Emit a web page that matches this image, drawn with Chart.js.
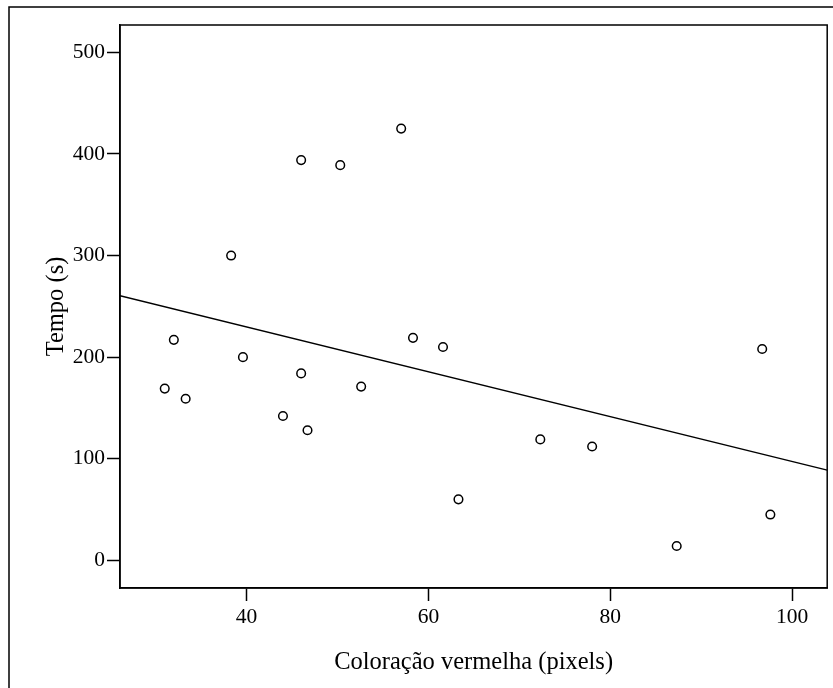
<!DOCTYPE html>
<html>
<head>
<meta charset="utf-8">
<script src="https://cdn.jsdelivr.net/npm/chart.js@4.4.0/dist/chart.umd.min.js"></script>
<style>
  html, body { margin: 0; padding: 0; background: #fff; }
  #wrap { width: 833px; height: 688px; }
</style>
</head>
<body>
<div id="wrap"><canvas id="chart" width="833" height="688"></canvas></div>
<script>
// valores
const coloracao = [38.3, 32.0, 39.6, 46.0, 31.0, 33.3, 44.0, 46.7, 46.0, 50.3, 57.0, 58.3, 61.6, 52.6, 72.3, 63.3, 78.0, 87.3, 96.7, 97.6];
const tempo = [300, 217, 200, 184, 169, 159, 142, 128, 394, 389, 425, 219, 210, 171, 119, 60, 112, 14, 208, 45];
const retaX = [26.08, 103.85];
const retaY = [260.4, 88.8];
const xTicks = [40, 60, 80, 100];
const yTicks = [0, 100, 200, 300, 400, 500];

const serif = 'Liberation Serif, Times New Roman, serif';

const framePlugin = {
  id: 'frame',
  afterDraw(chart) {
    const { ctx, chartArea } = chart;
    ctx.save();
    ctx.strokeStyle = '#000';
    ctx.lineWidth = 1.5;
    // moldura externa (só topo e esquerda aparecem)
    ctx.beginPath();
    ctx.moveTo(9, 688);
    ctx.lineTo(9, 7);
    ctx.lineTo(833, 7);
    ctx.stroke();
    ctx.strokeRect(chartArea.left, chartArea.top, chartArea.right - chartArea.left, chartArea.bottom - chartArea.top);
    ctx.restore();
  }
};

new Chart(document.getElementById('chart'), {
  type: 'scatter',
  data: {
    datasets: [
      {
        label: 'Tempo',
        data: coloracao.map((x, i) => ({ x, y: tempo[i] })),
        pointStyle: 'circle',
        pointRadius: 4.3,
        pointBackgroundColor: '#fff',
        pointBorderColor: '#000',
        pointBorderWidth: 1.5
      },
      {
        label: 'Ajuste',
        type: 'line',
        data: retaX.map((x, i) => ({ x, y: retaY[i] })),
        borderColor: '#000',
        borderWidth: 1.4,
        pointRadius: 0,
        fill: false
      }
    ]
  },
  options: {
    responsive: false,
    animation: false,
    layout: { padding: { left: 0, top: 25, right: 5, bottom: 0 } },
    plugins: { legend: { display: false }, tooltip: { enabled: false } },
    scales: {
      x: {
        type: 'linear',
        min: 26.08,
        max: 103.85,
        afterBuildTicks: (s) => { s.ticks = xTicks.map((v) => ({ value: v })); },
        afterFit: (s) => { s.height = 100; },
        grid: { drawOnChartArea: false, tickLength: 13, tickColor: '#000', tickWidth: 1.5 },
        border: { color: '#000', width: 1.5 },
        ticks: { color: '#000', padding: 3, maxRotation: 0, font: { family: serif, size: 21.5 } },
        title: {
          display: true,
          text: 'Coloração vermelha (pixels)',
          color: '#000',
          font: { family: serif, size: 24.5 },
          padding: { top: 0, bottom: 11 }
        }
      },
      y: {
        type: 'linear',
        min: -27.3,
        max: 527,
        afterBuildTicks: (s) => { s.ticks = yTicks.map((v) => ({ value: v })); },
        afterFit: (s) => { s.width = 120; },
        grid: { drawOnChartArea: false, tickLength: 13, tickColor: '#000', tickWidth: 1.5 },
        border: { color: '#000', width: 1.5 },
        ticks: { color: '#000', padding: 2, font: { family: serif, size: 21.5 } },
        title: {
          display: true,
          text: 'Tempo (s)',
          color: '#000',
          font: { family: serif, size: 24.5 },
          padding: { top: 42, bottom: 0 }
        }
      }
    }
  },
  plugins: [framePlugin]
});
</script>
</body>
</html>
